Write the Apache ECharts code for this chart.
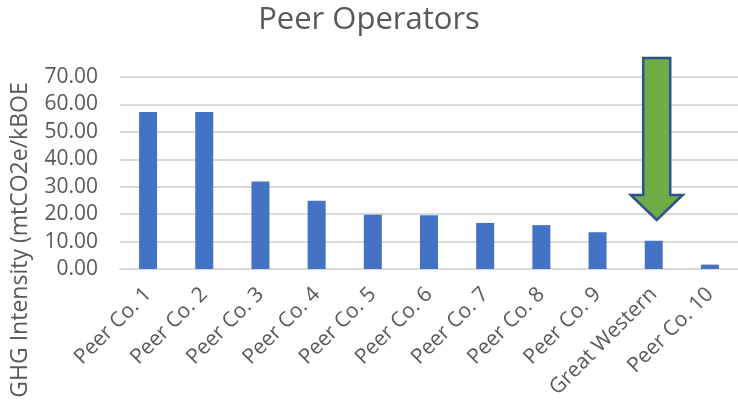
<!DOCTYPE html>
<html>
<head>
<meta charset="utf-8">
<script src="https://cdn.jsdelivr.net/npm/echarts@6/dist/echarts.min.js"></script>
<style>
  html, body { margin: 0; padding: 0; background: #fff; }
  #chart { width: 738px; height: 407px; }
</style>
</head>
<body>
<div id="chart"></div>
<script>
// categories and values
var companies = ['Peer Co. 1', 'Peer Co. 2', 'Peer Co. 3', 'Peer Co. 4', 'Peer Co. 5', 'Peer Co. 6',
  'Peer Co. 7', 'Peer Co. 8', 'Peer Co. 9', 'Great Western', 'Peer Co. 10'];
var intensity = [57.2, 57.2, 31.9, 24.9, 19.8, 19.6, 16.8, 16.0, 13.4, 10.3, 1.6];

// arrow pointing at Great Western: [category, top value, head base value, tip value]
var arrowData = [['Great Western', 76.9, 27.0, 17.9]];

var textColor = '#595959';
var fontName = 'Open Sans';

var myChart = echarts.init(document.getElementById('chart'));

var option = {
  animation: false,
  textStyle: { fontFamily: fontName },
  title: {
    text: 'Peer Operators',
    left: 'center',
    top: 0,
    textStyle: { color: textColor, fontSize: 31, fontWeight: 'normal', fontFamily: fontName }
  },
  grid: {
    left: 120,
    top: 77,
    width: 621,
    height: 192
  },
  xAxis: {
    type: 'category',
    data: companies,
    axisTick: { show: false },
    axisLine: { lineStyle: { color: '#d9d9d9', width: 2 } },
    axisLabel: {
      interval: 0,
      rotate: 45,
      margin: 22,
      color: textColor,
      fontSize: 21
    }
  },
  yAxis: {
    type: 'value',
    min: 0,
    max: 70,
    interval: 10,
    axisLine: { show: false },
    axisTick: { show: false },
    splitLine: { lineStyle: { color: '#d9d9d9', width: 2 } },
    axisLabel: {
      margin: 22,
      color: textColor,
      fontSize: 21,
      formatter: function (v) { return v.toFixed(2) }
    }
  },
  graphic: [{
    type: 'text',
    x: 20,
    y: 240,
    rotation: Math.PI / 2,
    style: {
      text: 'GHG Intensity (mtCO2e/kBOE',
      fill: textColor,
      font: '23px ' + fontName,
      align: 'center',
      verticalAlign: 'middle'
    }
  }],
  series: [
    {
      type: 'bar',
      data: intensity,
      barWidth: 18,
      itemStyle: { color: '#4472c4' }
    },
    {
      type: 'custom',
      clip: false,
      data: arrowData,
      encode: { x: 0, y: 1 },
      z: 5,
      renderItem: function (params, api) {
        var cat = api.value(0);
        var top = api.coord([cat, api.value(1)]);
        var head = api.coord([cat, api.value(2)]);
        var tip = api.coord([cat, api.value(3)]);
        var cx = top[0] + 3;
        var sw = 13.5, hw = 26;
        return {
          type: 'polygon',
          shape: {
            points: [
              [cx - sw, top[1]], [cx + sw, top[1]], [cx + sw, head[1]], [cx + hw, head[1]],
              [cx, tip[1]], [cx - hw, head[1]], [cx - sw, head[1]]
            ]
          },
          style: { fill: '#70ad47', stroke: '#2f528f', lineWidth: 2.5 }
        };
      }
    }
  ]
};

myChart.setOption(option);
</script>
</body>
</html>
